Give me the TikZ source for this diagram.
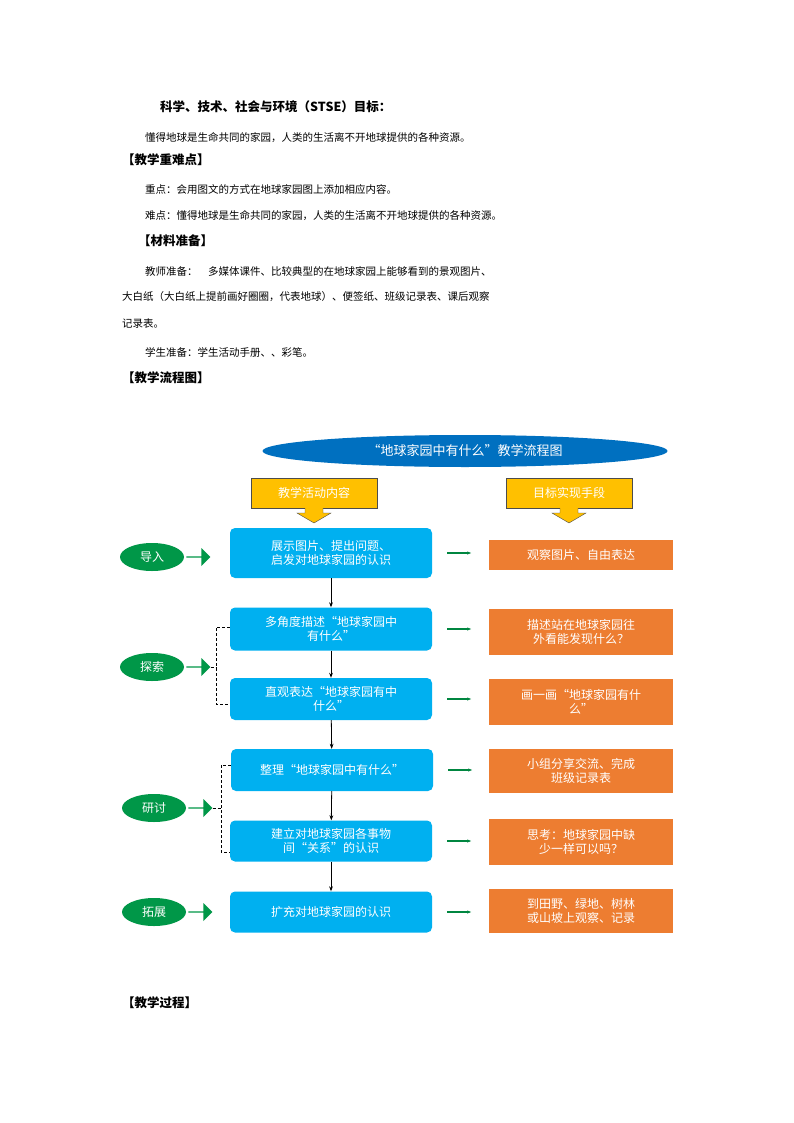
\documentclass[tikz,border=0pt]{standalone}
\usepackage{fontspec}
\setmainfont{Noto Sans CJK SC}
\newfontfamily\boldcjk{Noto Sans CJK SC Bold}
\usetikzlibrary{shapes.geometric,shapes.arrows,arrows.meta}
\definecolor{dblue}{RGB}{0,112,192}
\definecolor{lblue}{RGB}{0,176,240}
\definecolor{orng}{RGB}{237,125,49}
\definecolor{ylw}{RGB}{255,192,0}
\definecolor{grn}{RGB}{0,168,80}
\tikzset{
 txt/.style={anchor=west,inner sep=0pt,font=\fontsize{10.5}{12}\selectfont},
 hd/.style={anchor=west,inner sep=0pt,font=\fontsize{12.5}{14}\selectfont\bfseries},
 bbox/.style={draw=none,fill=lblue,rounded corners=5pt,text=white,align=center,font=\fontsize{12}{14}\selectfont,minimum width=202pt,inner sep=1pt},
 obox/.style={fill=orng,text=white,align=center,font=\fontsize{12}{14}\selectfont,minimum width=184pt,inner sep=1pt},
 ybox/.style={fill=ylw,draw=black!70,text=white,font=\fontsize{12}{14}\selectfont,minimum width=126pt,minimum height=30pt},
 gell/.style={ellipse,fill=grn!90!black,text=white,font=\fontsize{12}{14}\selectfont,minimum width=64pt,minimum height=28pt,inner sep=0pt},
 garr/.style={single arrow,fill=grn!90!black,minimum height=24pt,minimum width=18pt,single arrow head extend=3pt,inner sep=0pt,shape border rotate=0},
 sarr/.style={-{Stealth[length=4pt]},grn!80!black,line width=1.2pt},
 karr/.style={-{Stealth[length=5pt]},black,line width=0.8pt},
 brk/.style={densely dashed,black,line width=0.6pt},
 x=1pt,y=-1pt}
\begin{document}
\begin{tikzpicture}
\useasboundingbox (0,0) rectangle (794,1123);
\fill[white] (0,0) rectangle (794,1123);
\node[hd] (t1) at (160,107) {科学、技术、社会与环境（STSE）目标：};
\node[txt] (t2) at (145,138) {懂得地球是生命共同的家园，人类的生活离不开地球提供的各种资源。};
\node[hd] (t3) at (122,160) {【教学重难点】};
\node[txt] (t4) at (145,190) {重点：会用图文的方式在地球家园图上添加相应内容。};
\node[txt] (t5) at (145,216) {难点：懂得地球是生命共同的家园，人类的生活离不开地球提供的各种资源。};
\node[hd] (t6) at (138,241) {【材料准备】};
\node[txt] (t7) at (145,271) {教师准备：\quad 多媒体课件、比较典型的在地球家园上能够看到的景观图片、};
\node[txt] (t8) at (122,297) {大白纸（大白纸上提前画好圈圈，代表地球）、便签纸、班级记录表、课后观察};
\node[txt] (t9) at (122,324) {记录表。};
\node[txt] (t10) at (145,352) {学生准备：学生活动手册、、彩笔。};
\node[hd] (t11) at (122,378) {【教学流程图】};
\node[hd] (t12) at (122,1003) {【教学过程】};

\node[ellipse,fill=dblue,text=white,minimum width=405pt,minimum height=32pt,font=\fontsize{13}{15}\selectfont] (title) at (465,451) {“地球家园中有什么”教学流程图};

\node[ybox] (y1) at (314,493) {教学活动内容};
\node[ybox] (y2) at (569,493) {目标实现手段};
\fill[ylw,draw=black!70] (305,508) -- (305,513) -- (297,513) -- (314,523) -- (331,513) -- (323,513) -- (323,508);
\fill[ylw,draw=black!70] (560,508) -- (560,513) -- (552,513) -- (569,523) -- (586,513) -- (578,513) -- (578,508);

\node[bbox,minimum height=50pt] (b1) at (331,553) {展示图片、提出问题、\\启发对地球家园的认识};
\node[bbox,minimum height=43pt] (b2) at (331,629) {多角度描述“地球家园中\\有什么”};
\node[bbox,minimum height=42pt] (b3) at (331,699) {直观表达“地球家园有中\\什么”};
\node[bbox,minimum height=42pt] (b4) at (332,770) {整理“地球家园中有什么”};
\node[bbox,minimum height=41pt] (b5) at (331,841) {建立对地球家园各事物\\间“关系”的认识};
\node[bbox,minimum height=41pt] (b6) at (331,912) {扩充对地球家园的认识};

\node[obox,minimum height=30pt] (o1) at (581,555) {观察图片、自由表达};
\node[obox,minimum height=46pt] (o2) at (581,632) {描述站在地球家园往\\外看能发现什么？};
\node[obox,minimum height=46pt] (o3) at (581,702) {画一画“地球家园有什\\么”};
\node[obox,minimum height=44pt] (o4) at (581,771) {小组分享交流、完成\\班级记录表};
\node[obox,minimum height=46pt] (o5) at (581,842) {思考：地球家园中缺\\少一样可以吗？};
\node[obox,minimum height=44pt] (o6) at (581,911) {到田野、绿地、树林\\或山坡上观察、记录};

\foreach \i in {1,...,6} {\draw[sarr] (b\i.east) ++(15,0) coordinate (s\i) -- ++(24,0) coordinate (e\i);}

\draw[karr] (b1) -- (b2);
\draw[karr] (b2) -- (b3);
\draw[karr] (b3) -- (b4);
\draw[karr] (b4) -- (b5);
\draw[karr] (b5) -- (b6);

\node[gell] (g1) at (152,557) {导入};
\node[gell] (g2) at (152,667) {探索};
\node[gell] (g3) at (154,808) {研讨};
\node[gell] (g4) at (154,912) {拓展};
\node[garr] (a1) at (198,557) {};
\node[garr] (a2) at (198,667) {};
\node[garr] (a3) at (200,808) {};
\node[garr] (a4) at (200,912) {};

\draw[brk] (b2.west |- 0,627) -- (216,627) -- (216,704) -- (b3.west |- 0,704);
\draw[brk] (a2.east) -- (216,667);
\draw[brk] (b4.west |- 0,765) -- (221,765) -- (221,852) -- (b5.west |- 0,852);
\draw[brk] (a3.east) -- (221,808);
\end{tikzpicture}
\end{document}
